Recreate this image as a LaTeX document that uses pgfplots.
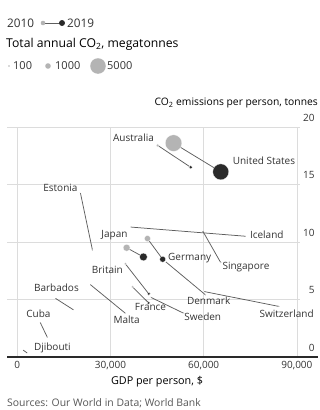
\documentclass[border=0pt]{standalone}
\usepackage{pgfplots}
\pgfplotsset{compat=1.18}
\usepackage{fontspec}
\setmainfont{Open Sans}
\definecolor{light}{HTML}{B4B4B4}
\definecolor{dark}{HTML}{2A2A2A}
\definecolor{conn}{HTML}{5E5E5E}
\definecolor{gridc}{HTML}{DCDCDC}
\definecolor{txt}{HTML}{333333}
\definecolor{src}{HTML}{555555}
\newcommand{\lab}{\fontsize{10}{11}\selectfont\color{txt}}
\newcommand{\seg}[4]{\addplot[conn, line width=0.75pt] coordinates {(#1,#2) (#3,#4)};}
\newcommand{\pt}[4]{\addplot[only marks, mark=*, mark size=#3, mark options={fill=#4, draw=white, line width=0.25pt}] coordinates {(#1,#2)};}
\begin{document}
\begin{tikzpicture}
\begin{axis}[
  at={(7pt,-357pt)}, anchor=south west,
  width=293pt, height=230pt, scale only axis,
  xmin=-3300, xmax=91000, ymin=0, ymax=20,
  axis line style={draw=none},
  scaled x ticks=false, scaled y ticks=false,
  xtick={0,30000,60000,90000}, xticklabels={0,{30,000},{60,000},{90,000}},
  ytick={0,5,10,15,20}, yticklabels={0,5,10,15,20},
  yticklabel pos=right,
  major tick length=0pt,
  grid=major, grid style={gridc, line width=0.6pt},
  tick label style={font=\fontsize{10}{11}\selectfont, text=txt},
  y tick label style={anchor=south east, xshift=18pt, yshift=2pt},
  x tick label style={yshift=-1pt},
  clip=false,
]
% connecting lines 2010 -> 2019
\seg{50300}{18.6}{65500}{16.1}  % United States
\seg{45200}{18.4}{55800}{16.5}  % Australia
\seg{20300}{14.3}{24200}{9.3}   % Estonia
\seg{36500}{11.3}{73500}{10.5}  % Iceland
\seg{59600}{11.0}{65500}{8.2}   % Singapore
\seg{35200}{9.5}{40600}{8.7}    % Japan
\seg{41900}{10.3}{46800}{8.5}   % Germany
\seg{47700}{8.3}{60600}{5.4}    % Denmark
\seg{60000}{5.7}{84200}{4.4}    % Switzerland
\seg{34800}{8.1}{42300}{5.5}    % Britain
\seg{37100}{6.1}{42300}{4.7}    % France
\seg{42900}{5.2}{53600}{3.8}    % Sweden
\seg{23500}{6.3}{34800}{3.8}    % Malta
\seg{12300}{5.1}{18100}{4.1}    % Barbados
\seg{7400}{3.0}{9700}{1.7}      % Cuba
\seg{1900}{0.6}{3200}{0.35}     % Djibouti
% 2010 markers
\pt{50300}{18.6}{8.3}{light}
\pt{45200}{18.4}{1.6}{light}
\pt{35200}{9.5}{3.5}{light}
\pt{41900}{10.3}{3.1}{light}
\pt{34800}{8.1}{1.4}{light}
\pt{37100}{6.1}{1.3}{light}
\pt{20300}{14.3}{0.5}{light}
\pt{36500}{11.3}{0.4}{light}
\pt{59600}{11.0}{0.5}{light}
\pt{47700}{8.3}{0.5}{light}
\pt{60000}{5.7}{0.5}{light}
\pt{42900}{5.2}{0.6}{light}
% 2019 markers
\pt{65500}{16.1}{8.0}{dark}
\pt{55800}{16.5}{1.8}{dark}
\pt{40600}{8.7}{3.9}{dark}
\pt{46800}{8.5}{3.0}{dark}
\pt{42300}{5.5}{1.6}{dark}
\pt{42300}{4.7}{1.5}{dark}
\pt{24200}{9.3}{0.5}{dark}
\pt{65500}{8.2}{0.5}{dark}
\pt{60600}{5.4}{0.5}{dark}
\pt{84200}{4.4}{0.5}{dark}
\pt{53600}{3.8}{0.6}{dark}
% country labels
\node[font=\lab] at (axis cs:37400,19.1) {Australia};
\node[font=\lab] at (axis cs:79400,17.1) {United States};
\node[font=\lab] at (axis cs:13900,14.7) {Estonia};
\node[font=\lab] at (axis cs:31300,10.6) {Japan};
\node[font=\lab] at (axis cs:80300,10.6) {Iceland};
\node[font=\lab] at (axis cs:55500,8.6) {Germany};
\node[font=\lab] at (axis cs:73600,7.8) {Singapore};
\node[font=\lab] at (axis cs:29000,7.55) {Britain};
\node[font=\lab] at (axis cs:12600,6.0) {Barbados};
\node[font=\lab] at (axis cs:61600,4.9) {Denmark};
\node[font=\lab] at (axis cs:42900,4.35) {France};
\node[font=\lab] at (axis cs:6800,3.8) {Cuba};
\node[font=\lab] at (axis cs:35200,3.2) {Malta};
\node[font=\lab] at (axis cs:59700,3.5) {Sweden};
\node[font=\lab] at (axis cs:86700,3.8) {Switzerland};
\node[font=\lab] at (axis cs:11300,0.8) {Djibouti};
\end{axis}
% baseline
\draw[dark, line width=1.4pt] (7pt,-357pt) -- (318pt,-357pt);
% axis titles and source
\node[anchor=east, inner sep=0pt, font=\fontsize{10.3}{11}\selectfont, text=black] at (318pt,-103pt) {CO\textsubscript{2} emissions per person, tonnes};
\node[inner sep=0pt, font=\fontsize{10.8}{11}\selectfont, text=black] at (157pt,-382pt) {GDP per person, \$};
\node[anchor=west, inner sep=0pt, font=\fontsize{10.4}{11}\selectfont, text=src] at (7pt,-403pt) {Sources: Our World in Data; World Bank};
% legend
\node[anchor=west, inner sep=0pt, font=\fontsize{11.8}{12}\selectfont, text=txt] at (7pt,-23pt) {2010};
\draw[conn, line width=1pt] (43pt,-23pt) -- (62pt,-23pt);
\fill[light] (43pt,-23pt) circle (2.3pt);
\fill[dark] (62pt,-23pt) circle (3pt);
\node[anchor=west, inner sep=0pt, font=\fontsize{11.8}{12}\selectfont, text=txt] at (67pt,-23pt) {2019};
\node[anchor=west, inner sep=0pt, font=\fontsize{12.2}{13}\selectfont, text=black] at (6pt,-44pt) {Total annual CO\textsubscript{2}, megatonnes};
\fill[light] (9pt,-66pt) circle (0.9pt);
\node[anchor=west, inner sep=0pt, font=\fontsize{11}{12}\selectfont, text=txt] at (13pt,-66pt) {100};
\fill[light] (48pt,-66pt) circle (2.8pt);
\node[anchor=west, inner sep=0pt, font=\fontsize{11}{12}\selectfont, text=txt] at (55pt,-66pt) {1000};
\fill[light] (98pt,-66pt) circle (7.8pt);
\node[anchor=west, inner sep=0pt, font=\fontsize{11}{12}\selectfont, text=txt] at (107pt,-66pt) {5000};
\pgfresetboundingbox
\useasboundingbox (0,0) rectangle (319pt,-410pt);
\end{tikzpicture}
\end{document}
